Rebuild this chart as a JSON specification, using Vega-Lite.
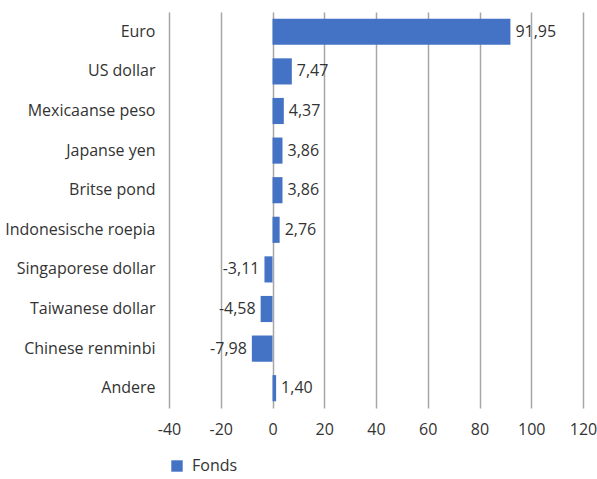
{
  "$schema": "https://vega.github.io/schema/vega-lite/v6.json",
  "width": 414,
  "height": 396,
  "autosize": {"type": "none"},
  "padding": {"left": 169, "top": 12, "right": 14, "bottom": 71},
  "background": "white",
  "config": {
    "view": {"stroke": null},
    "font": "Open Sans",
    "locale": {"number": {"decimal": ",", "thousands": ".", "grouping": [3], "currency": ["€", ""], "minus": "-"}}
  },
  "data": {
    "values": [
      {"currency": "Euro", "value": 91.95, "series": "Fonds"},
      {"currency": "US dollar", "value": 7.47, "series": "Fonds"},
      {"currency": "Mexicaanse peso", "value": 4.37, "series": "Fonds"},
      {"currency": "Japanse yen", "value": 3.86, "series": "Fonds"},
      {"currency": "Britse pond", "value": 3.86, "series": "Fonds"},
      {"currency": "Indonesische roepia", "value": 2.76, "series": "Fonds"},
      {"currency": "Singaporese dollar", "value": -3.11, "series": "Fonds"},
      {"currency": "Taiwanese dollar", "value": -4.58, "series": "Fonds"},
      {"currency": "Chinese renminbi", "value": -7.98, "series": "Fonds"},
      {"currency": "Andere", "value": 1.40, "series": "Fonds"}
    ]
  },
  "encoding": {
    "y": {
      "field": "currency", "type": "nominal", "sort": null,
      "scale": {"paddingInner": 0.34, "paddingOuter": 0.17},
      "axis": {"title": null, "domain": false, "ticks": false, "grid": false, "labelPadding": 14, "labelFontSize": 16, "labelColor": "#333333", "labelFont": "Open Sans"}
    },
    "x": {
      "field": "value", "type": "quantitative",
      "scale": {"domain": [-40, 120], "nice": false, "zero": false},
      "axis": {"title": null, "domain": false, "ticks": false, "grid": true, "gridColor": "#a6a6a6", "gridWidth": 1.5, "values": [-40, -20, 0, 20, 40, 60, 80, 100, 120], "labelFlush": false, "labelOverlap": false, "labelPadding": 13, "labelFontSize": 16, "labelColor": "#333333", "labelFont": "Open Sans", "format": "d"}
    }
  },
  "layer": [
    {
      "mark": {"type": "bar"},
      "encoding": {
        "color": {
          "field": "series", "type": "nominal",
          "scale": {"range": ["#4472C4"]},
          "legend": {"title": null, "orient": "none", "legendX": 0, "legendY": 446, "symbolType": "square", "symbolSize": 130, "symbolStrokeWidth": 0, "labelFontSize": 16, "labelColor": "#333333", "labelFont": "Open Sans", "symbolOffset": 0, "labelOffset": 7}
        }
      }
    },
    {
      "transform": [{"filter": "datum.value >= 0"}],
      "mark": {"type": "text", "align": "left", "dx": 5, "fontSize": 16, "color": "#333333", "font": "Open Sans"},
      "encoding": {"text": {"field": "value", "type": "quantitative", "format": ".2f"}}
    },
    {
      "transform": [{"filter": "datum.value < 0"}],
      "mark": {"type": "text", "align": "right", "dx": -5, "fontSize": 16, "color": "#333333", "font": "Open Sans"},
      "encoding": {"text": {"field": "value", "type": "quantitative", "format": ".2f"}}
    }
  ]
}
